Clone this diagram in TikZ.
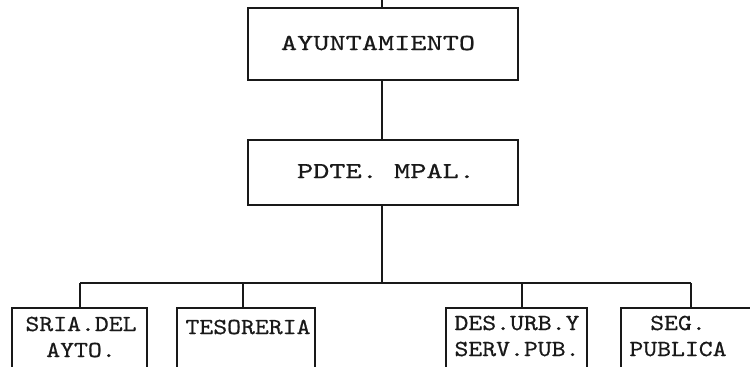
\documentclass[tikz,border=0pt]{standalone}
\usepackage{fontspec}
\newfontfamily\topface{lmmono10-regular.otf}[FakeStretch=1.34,FakeBold=0.6]
\newfontfamily\botface{lmmono10-regular.otf}[FakeStretch=1.15,FakeBold=0.6]
\begin{document}
\begin{tikzpicture}[x=0.5pt,y=-0.5pt,
  box/.style={draw=black!90, line width=1pt, rectangle, inner sep=0pt},
  link/.style={draw=black!90, line width=1pt},
  toptxt/.style={font=\topface\fontsize{11.5}{13}\selectfont, text=black!90},
  lbl/.style={font=\botface\fontsize{11.5}{13}\selectfont, align=center, text=black!90, inner sep=0pt}]
\useasboundingbox (0,0) rectangle (750,366);
\clip (0,0) rectangle (750,366);
% top level boxes
\node[box, minimum width=135pt, minimum height=36pt] (ayu) at (383,44) {};
\node[box, minimum width=135pt, minimum height=32.5pt] (pdte) at (383,172.5) {};
\node[toptxt] (ayuT) at (378,43) {AYUNTAMIENTO};
\node[toptxt] (pdteT) at (386,171) {PDTE. MPAL.};
% bottom boxes
\node[box, minimum width=67.5pt, minimum height=32pt] (sria) at (79.5,340) {};
\node[box, minimum width=69pt, minimum height=32pt] (tes) at (246,340) {};
\node[box, minimum width=70.5pt, minimum height=32pt] (des) at (516.5,340) {};
\node[box, minimum width=70pt, minimum height=32pt] (seg) at (691,340) {};
% labels
\node[lbl] (sriaT) at (81,337) {SRIA.DEL\\AYTO.};
\node[lbl] (tesT) at (248,327) {TESORERIA};
\node[lbl] (desT) at (517,336) {DES.URB.Y\\SERV.PUB.};
\node[lbl] (segT) at (678,336) {SEG.\\PUBLICA};
% connectors
\coordinate (topin) at (382,0);
\coordinate (bus) at (382,283);
\coordinate (d1) at (80,283);
\coordinate (d2) at (243,283);
\coordinate (d3) at (522,283);
\coordinate (d4) at (691,283);
\draw[link] (topin) -- (topin |- ayu.north);
\draw[link] (ayu.south -| bus) -- (pdte.north -| bus);
\draw[link] (pdte.south -| bus) -- (bus);
\draw[link] (d1) -- (d4);
\draw[link] (d1) -- (d1 |- sria.north);
\draw[link] (d2) -- (d2 |- tes.north);
\draw[link] (d3) -- (d3 |- des.north);
\draw[link] (d4) -- (d4 |- seg.north);
\end{tikzpicture}
\end{document}
